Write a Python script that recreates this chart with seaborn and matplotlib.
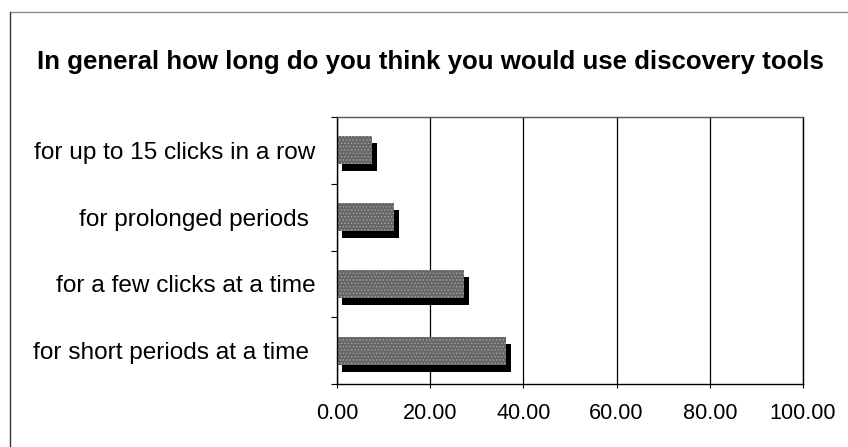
import matplotlib
matplotlib.use("Agg")
import matplotlib.pyplot as plt
from matplotlib.lines import Line2D
from matplotlib.ticker import FixedLocator, FormatStrFormatter
from matplotlib.transforms import ScaledTranslation
import pandas as pd
import seaborn as sns

# Survey answers and their shares
categories = [
    "for up to 15 clicks in a row",
    "for prolonged periods ",
    "for a few clicks at a time",
    "for short periods at a time ",
]
values = [7.5, 12.3, 27.2, 36.3]
x_ticks = [0, 20, 40, 60, 80, 100]
title = "In general how long do you think you would use discovery tools"

df = pd.DataFrame({"answer": categories, "share": values})

sns.set_style("white")
plt.rcParams["font.family"] = ["Liberation Sans", "DejaVu Sans"]
plt.rcParams["hatch.linewidth"] = 0.6
plt.rcParams["text.color"] = "black"
plt.rcParams["xtick.color"] = "black"
plt.rcParams["ytick.color"] = "black"

W, H = 848, 447
fig = plt.figure(figsize=(W / 100, H / 100), dpi=100)
ax = fig.add_axes([337 / W, 63 / H, (803 - 337) / W, (384 - 117) / H])

# Dark depth block of each bar, drawn first and nudged right/down
sns.barplot(data=df, x="share", y="answer", orient="h", ax=ax,
            color="black", width=0.42, saturation=1)
n_depth = len(ax.patches)
depth_shift = ScaledTranslation(5 / 100, -7 / 100, fig.dpi_scale_trans)
for bar in ax.patches[:n_depth]:
    bar.set_transform(ax.transData + depth_shift)
    bar.set_linewidth(0)

# Speckled gray front faces
sns.barplot(data=df, x="share", y="answer", orient="h", ax=ax,
            color="#666666", width=0.42, saturation=1)
for bar in ax.patches[n_depth:]:
    bar.set_hatch(".....")
    bar.set_edgecolor("#a4a4a4")
    bar.set_linewidth(0)

ax.set_xlim(x_ticks[0], x_ticks[-1])
ax.xaxis.set_major_locator(FixedLocator(x_ticks))
ax.xaxis.set_major_formatter(FormatStrFormatter("%.2f"))
ax.grid(axis="x", color="black", linewidth=0.9)
ax.set_axisbelow(True)

for side in ["left", "right", "top", "bottom"]:
    ax.spines[side].set_visible(True)
    ax.spines[side].set_color("black")
    ax.spines[side].set_linewidth(1.0)
ax.spines["top"].set_color("#555555")

ax.set_xlabel("")
ax.set_ylabel("")

# Category separators as short outward ticks on the left axis
n = len(categories)
ax.yaxis.set_minor_locator(FixedLocator([i - 0.5 for i in range(n + 1)]))
ax.tick_params(axis="y", which="minor", left=True, length=4, width=0.8, color="black")
ax.tick_params(axis="y", which="major", left=False, length=0, pad=15.5, labelsize=17.6)
ax.tick_params(axis="x", which="major", bottom=True, length=3, width=0.8,
               color="black", pad=11, labelsize=15.6)
for lab in ax.get_yticklabels():
    lab.set_ha("right")
    lab.set_color("black")
for lab in ax.get_xticklabels():
    lab.set_color("black")

fig.text(430 / W, 1 - 62 / H, title, ha="center", va="center",
         fontsize=18.6, fontweight="bold", color="black")

# Outer frame edges of the chart
fig.add_artist(Line2D([10 / W, 1], [1 - 12 / H, 1 - 12 / H],
                      transform=fig.transFigure, color="#8a8a8a", linewidth=1.0))
fig.add_artist(Line2D([10 / W, 10 / W], [0, 1 - 12 / H],
                      transform=fig.transFigure, color="#333333", linewidth=1.0))

fig.savefig("out.png", dpi=100, facecolor="white")
